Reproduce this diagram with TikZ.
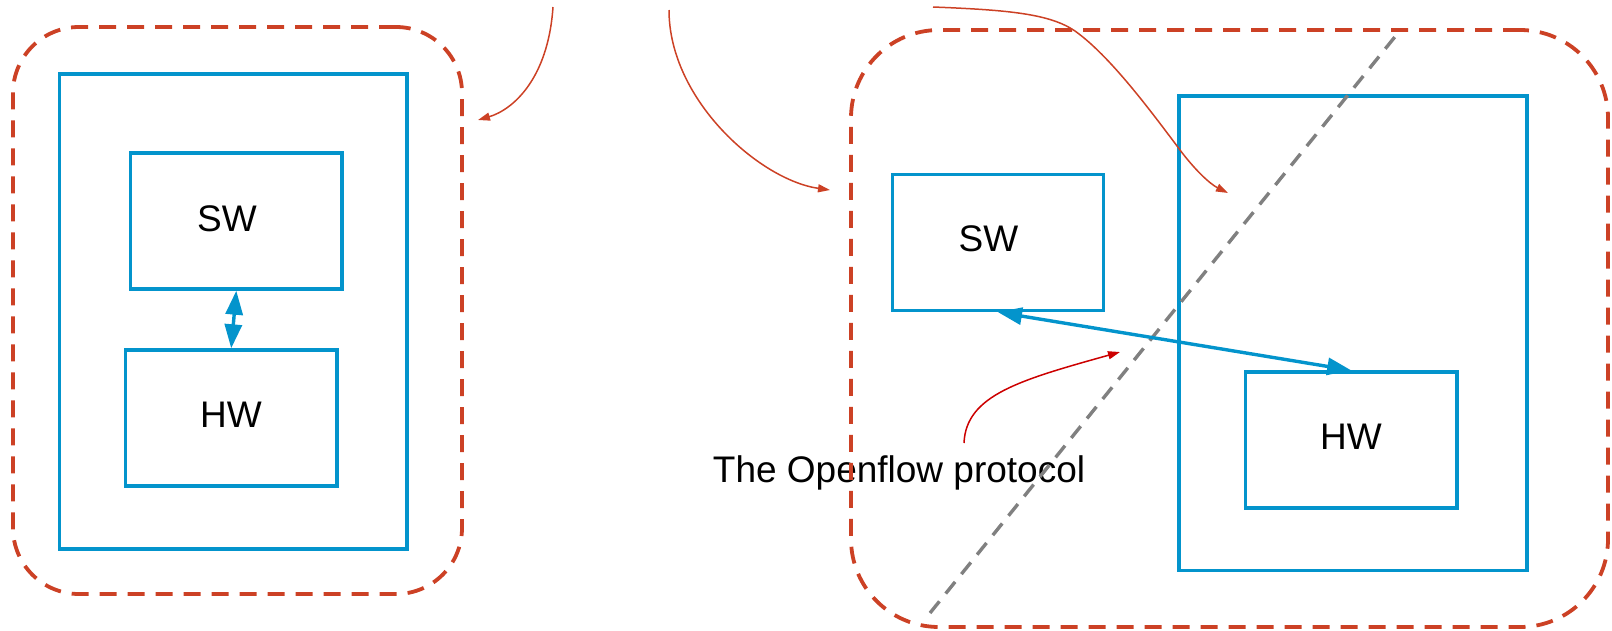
\documentclass[tikz,border=0pt]{standalone}
\usepackage{fontspec}
\setmainfont{Liberation Sans}
\usetikzlibrary{arrows.meta}
\definecolor{boxblue}{RGB}{3,148,204}
\definecolor{berry}{RGB}{204,65,37}
\definecolor{protored}{RGB}{204,0,0}
\definecolor{divgrey}{RGB}{128,128,128}
\tikzset{
  panel/.style={draw=berry, line width=3.8pt, dash pattern=on 17pt off 11pt,
    rectangle, inner sep=0pt},
  blockbox/.style={draw=boxblue, line width=3.4pt, rectangle, inner sep=0pt},
  lbl/.style={font=\fontsize{37}{44}\selectfont, anchor=base, inner sep=0pt},
  link/.style={draw=boxblue, line width=3.4pt,
    {Triangle[length=24pt,width=17pt]}-{Triangle[length=24pt,width=17pt]}},
  callout/.style={draw=berry, line width=1.5pt, -{Triangle[length=12pt,width=8pt]}},
  divider/.style={draw=divgrey, line width=3.4pt, dash pattern=on 15pt off 10pt},
}
\begin{document}
\begin{tikzpicture}[x=1pt,y=-1pt]
\useasboundingbox (0,0) rectangle (1612,630);

% caption
\node[lbl, anchor=base west] (proto) at (712.7,482.7) {The Openflow protocol};

% dashed enclosures
\node[panel, rounded corners=66pt, minimum width=449pt, minimum height=567pt] (lpanel) at (237.5,310.5) {};
\node[panel, rounded corners=88pt, minimum width=757pt, minimum height=597pt] (rpanel) at (1229.5,328.5) {};

% left device
\node[blockbox, minimum width=347.4pt, minimum height=475pt] (lout) at (233.3,311.5) {};
\node[blockbox, minimum width=211.4pt, minimum height=136pt] (lsw) at (236.3,221) {};
\node[blockbox, minimum width=211.6pt, minimum height=136pt] (lhw) at (231.2,418) {};
\node[lbl] (lswt) at (227,231.7) {SW};
\node[lbl] (lhwt) at (231,427.7) {HW};

% right device
\node[blockbox, minimum width=348pt, minimum height=474.5pt] (rout) at (1353,333.2) {};
\node[blockbox, minimum width=211pt, minimum height=136pt] (rsw) at (998,242.5) {};
\node[blockbox, minimum width=211.5pt, minimum height=136pt] (rhw) at (1351.2,440) {};
\node[lbl] (rswt) at (988.5,251.7) {SW};
\node[lbl] (rhwt) at (1351,449.3) {HW};

% split line
\coordinate (cutA) at (930,613);
\coordinate (cutB) at (1398,33);
\draw[divider] (cutA) -- (cutB);

% SW/HW links
\draw[link] (lsw.south) -- (lhw.north);
\draw[link] (rsw.south) -- (rhw.north);

% callout arrows
\coordinate (c1s) at (553,7);
\coordinate (c1e) at (478,120);
\draw[callout] (c1s) .. controls (548,80) and (512,110) .. (c1e);

\coordinate (c2s) at (669,10);
\coordinate (c2e) at (830,190);
\draw[callout] (c2s) .. controls (669,100) and (760,180) .. (c2e);

\coordinate (c3s) at (933,7);
\coordinate (c3m) at (1075,31);
\coordinate (c3e) at (1228,193);
\draw[callout] (c3s) .. controls (1010,10) and (1050,14) .. (c3m)
  .. controls (1110,56) and (1150,110) .. (1180,150)
  .. controls (1195,170) and (1210,184) .. (c3e);

\coordinate (c4s) at (964,443);
\coordinate (c4e) at (1120,352);
\draw[callout, draw=protored] (c4s) .. controls (966,395) and (1020,380) .. (c4e);
\end{tikzpicture}
\end{document}
